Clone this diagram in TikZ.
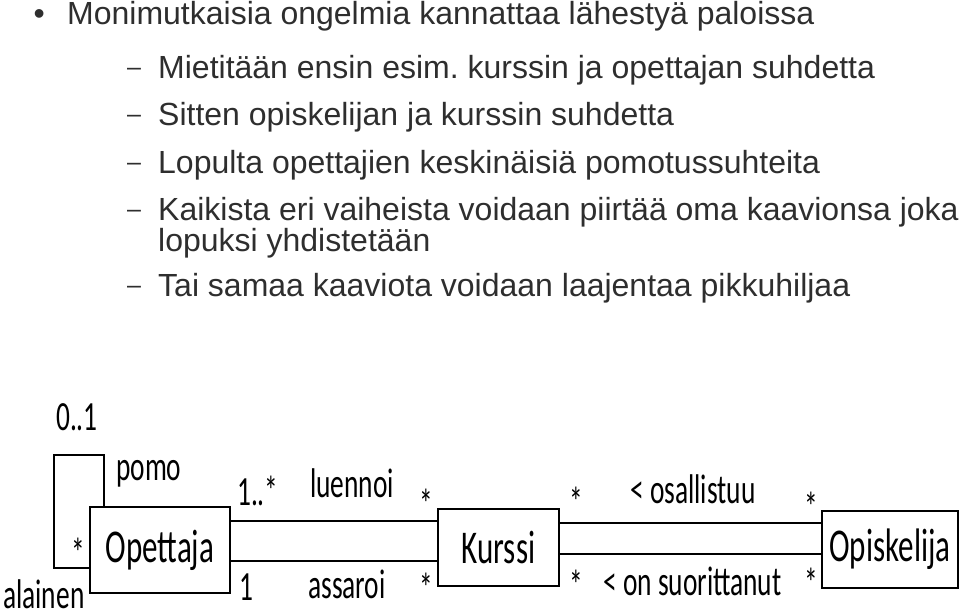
\documentclass[tikz,border=0pt]{standalone}
\usepackage{fontspec}
\setmainfont{Liberation Sans}
\newfontfamily\umlfont[FakeStretch=0.66]{Carlito}
\usetikzlibrary{positioning,calc}
\frenchspacing

\tikzset{
  luokka/.style={draw, rectangle, line width=1.6pt, inner sep=0pt, font=\umlfont\fontsize{47}{47}\selectfont},
  nimi/.style={anchor=base west, inner sep=0pt, font=\umlfont\fontsize{41.5}{41.5}\selectfont},
  viiva/.style={line width=1.6pt},
  kohta/.style={anchor=base west, inner sep=0pt, text=black!82, font=\fontsize{32}{31}\selectfont},
  viiva2/.style={anchor=base west, inner sep=0pt, text=black!82, font=\fontsize{25}{25}\selectfont}
}

\begin{document}
\begin{tikzpicture}[x=1pt, y=-1pt]
\useasboundingbox (0,0) rectangle (960,610);

% luettelo
\node[kohta] (pallo) at (33.5,25) {•};
\node[kohta] (otsikko) at (67,25) {Monimutkaisia ongelmia kannattaa lähestyä paloissa};
\node[viiva2] (v1) at (127,75) {–};
\node[kohta] (k1) at (158,78) {Mietitään ensin esim. kurssin ja opettajan suhdetta};
\node[viiva2] (v2) at (127,122.5) {–};
\node[kohta] (k2) at (158,125.5) {Sitten opiskelijan ja kurssin suhdetta};
\node[viiva2] (v3) at (127,170) {–};
\node[kohta] (k3) at (158,173) {Lopulta opettajien keskinäisiä pomotussuhteita};
\node[viiva2] (v4) at (127,217) {–};
\node[kohta] (k4) at (158,220) {Kaikista eri vaiheista voidaan piirtää oma kaavionsa joka};
\node[kohta] (k4b) at (158,251) {lopuksi yhdistetään};
\node[viiva2] (v5) at (127,293) {–};
\node[kohta] (k5) at (158,296) {Tai samaa kaaviota voidaan laajentaa pikkuhiljaa};

% luokat
\node[luokka, minimum width=140pt, minimum height=86pt] (opettaja) at (160,550) {Opettaja};
\node[luokka, minimum width=121pt, minimum height=77pt] (kurssi) at (498.5,547.5) {Kurssi};
\node[luokka, minimum width=136pt, minimum height=77pt] (opiskelija) at (890,549.5) {Opiskelija};

% pomo/alainen silmukka
\draw[viiva] ([xshift=15pt]opettaja.north west) -- ++(0,-51) -| ([xshift=-35pt,yshift=-18pt]opettaja.west) -- ([yshift=-18pt]opettaja.west);
\node[nimi] (nollayksi) at (56,430) {0..1};
\node[nimi] (pomo) at (116,480) {pomo};
\node[nimi] (alaistahti) at (71,567) {*};
\node[nimi] (alainen) at (3,608) {alainen};

% opettaja - kurssi
\draw[viiva] ([yshift=29pt]opettaja.east) -- ([yshift=29pt]opettaja.east -| kurssi.west);
\draw[viiva] ([yshift=-11pt]opettaja.east) -- ([yshift=-11pt]opettaja.east -| kurssi.west);
\node[nimi] (yksimonta) at (237,505) {1..*};
\node[nimi] (luennoi) at (310,497) {luennoi};
\node[nimi] (ltahti) at (419,518) {*};
\node[nimi] (yksi) at (239,600) {1};
\node[nimi] (assaroi) at (308,598) {assaroi};
\node[nimi] (atahti) at (419,602) {*};

% kurssi - opiskelija
\draw[viiva] ([yshift=24.5pt]kurssi.east) -- ([yshift=24.5pt]kurssi.east -| opiskelija.west);
\draw[viiva] ([yshift=-6.5pt]kurssi.east) -- ([yshift=-6.5pt]kurssi.east -| opiskelija.west);
\node[nimi] (otahti) at (569,516) {*};
\node[nimi] (osallistuu) at (630,503) {< osallistuu};
\node[nimi] (optahti) at (804,521) {*};
\node[nimi] (stahti) at (569,599) {*};
\node[nimi] (suorittanut) at (603,595) {< on suorittanut};
\node[nimi] (sptahti) at (804,597) {*};
\end{tikzpicture}
\end{document}
